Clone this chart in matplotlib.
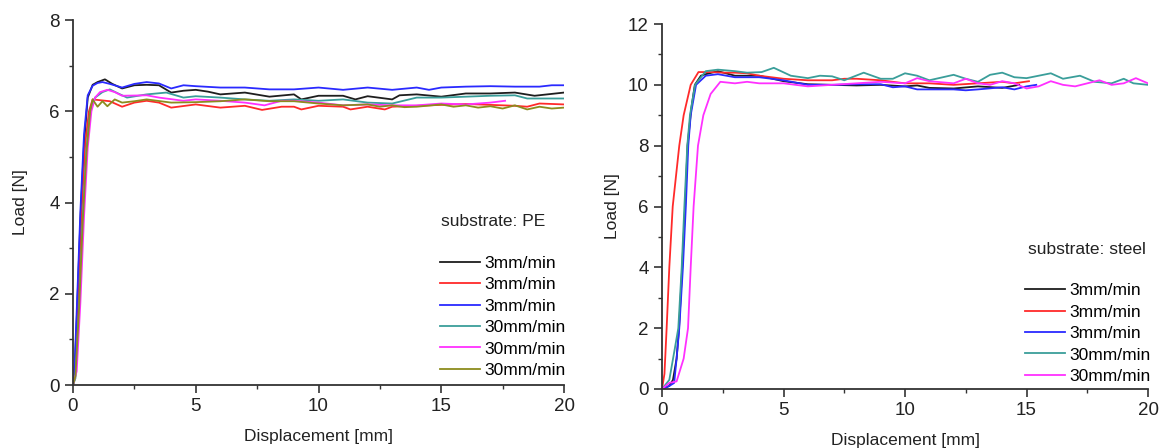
import matplotlib.pyplot as plt
from matplotlib.ticker import MultipleLocator

plt.rcParams['font.family'] = ['Liberation Sans', 'DejaVu Sans']

# colours of the runs (Origin style)
c_black = '#1e1e1e'
c_red = '#ff2a2a'
c_blue = '#2a2aff'
c_teal = '#3a9e9a'
c_magenta = '#ff30ff'
c_olive = '#8c8c1e'

labels_pe = ['3mm/min', '3mm/min', '3mm/min', '30mm/min', '30mm/min', '30mm/min']
labels_steel = ['3mm/min', '3mm/min', '3mm/min', '30mm/min', '30mm/min']

# ---- substrate: PE ----
pe_black_x = [0, 0.05, 0.15, 0.3, 0.45, 0.6, 0.8, 1.0, 1.3, 1.6, 2.0, 2.5, 3.0, 3.5, 4.0, 4.5, 5.0, 5.5, 6.0,
              7.0, 8.0, 9.0, 9.3, 10.0, 11.0, 11.5, 12.0, 13.0, 13.3, 14.0, 15.0, 16.0, 17.0, 18.0, 18.8, 20.0]
pe_black_y = [0, 0.1, 1.4, 3.6, 5.3, 6.3, 6.58, 6.64, 6.70, 6.6, 6.5, 6.57, 6.58, 6.57, 6.41, 6.45, 6.47, 6.43, 6.37,
              6.41, 6.32, 6.37, 6.26, 6.34, 6.34, 6.26, 6.33, 6.26, 6.35, 6.37, 6.32, 6.39, 6.39, 6.41, 6.34, 6.41]

pe_red_x = [0, 0.1, 0.2, 0.35, 0.5, 0.65, 0.8, 1.5, 2.0, 2.5, 3.0, 3.5, 4.0, 5.0, 6.0, 7.0, 7.7, 8.5, 9.0, 9.3,
            10.0, 11.0, 11.3, 12.0, 12.7, 13.0, 14.0, 15.0, 16.0, 17.0, 18.0, 18.5, 19.0, 20.0]
pe_red_y = [0, 0.3, 1.8, 3.8, 5.3, 6.0, 6.26, 6.22, 6.1, 6.19, 6.23, 6.19, 6.08, 6.15, 6.08, 6.12, 6.03, 6.1, 6.1,
            6.04, 6.12, 6.1, 6.04, 6.1, 6.04, 6.1, 6.12, 6.14, 6.16, 6.14, 6.12, 6.1, 6.17, 6.15]

pe_blue_x = [0, 0.05, 0.15, 0.3, 0.45, 0.6, 0.8, 1.0, 1.2, 1.5, 2.0, 2.5, 3.0, 3.5, 4.0, 4.5, 5.0, 6.0, 7.0,
             8.0, 9.0, 10.0, 11.0, 12.0, 13.0, 14.0, 14.5, 15.0, 16.0, 17.0, 18.0, 19.0, 19.5, 20.0]
pe_blue_y = [0, 0.2, 1.6, 3.8, 5.5, 6.35, 6.56, 6.62, 6.64, 6.6, 6.52, 6.6, 6.64, 6.61, 6.5, 6.57, 6.55, 6.52, 6.52,
             6.48, 6.48, 6.52, 6.47, 6.52, 6.47, 6.52, 6.47, 6.52, 6.54, 6.55, 6.54, 6.54, 6.57, 6.57]

pe_teal_x = [0, 0.1, 0.25, 0.4, 0.55, 0.7, 0.9, 1.2, 1.5, 1.8, 2.2, 3.0, 3.8, 4.5, 5.0, 6.0, 7.0, 8.0, 9.0,
             10.0, 11.0, 12.0, 13.0, 14.0, 15.0, 16.0, 17.0, 18.0, 18.5, 20.0]
pe_teal_y = [0, 0.15, 1.7, 3.7, 5.2, 6.0, 6.3, 6.42, 6.48, 6.4, 6.3, 6.37, 6.41, 6.3, 6.33, 6.3, 6.26, 6.23, 6.26,
             6.23, 6.26, 6.19, 6.17, 6.3, 6.3, 6.32, 6.34, 6.35, 6.28, 6.28]

pe_magenta_x = [0, 0.15, 0.3, 0.45, 0.6, 0.75, 0.9, 1.1, 1.4, 1.7, 2.0, 3.0, 3.5, 4.5, 5.0, 6.0, 7.0, 7.8, 8.5,
                9.0, 10.0, 11.0, 12.0, 13.0, 14.0, 15.0, 16.0, 17.0, 17.6]
pe_magenta_y = [0, 0.3, 1.8, 3.7, 5.2, 6.0, 6.3, 6.42, 6.47, 6.42, 6.34, 6.35, 6.3, 6.23, 6.26, 6.23, 6.19, 6.13, 6.23,
                6.23, 6.19, 6.13, 6.15, 6.13, 6.13, 6.17, 6.15, 6.19, 6.23]

pe_olive_x = [0, 0.1, 0.25, 0.4, 0.55, 0.7, 0.8, 1.0, 1.2, 1.4, 1.7, 2.0, 2.5, 3.0, 4.0, 5.0, 6.0, 7.0, 8.0, 9.0,
              10.0, 11.0, 12.0, 12.5, 13.0, 13.5, 14.0, 15.0, 15.5, 16.0, 16.5, 17.0, 17.5, 18.0, 18.5, 19.0, 19.5, 20.0]
pe_olive_y = [0, 0.2, 1.7, 3.6, 5.1, 6.0, 6.26, 6.1, 6.22, 6.11, 6.26, 6.19, 6.22, 6.26, 6.19, 6.2, 6.22, 6.26, 6.22,
              6.22, 6.17, 6.13, 6.15, 6.1, 6.13, 6.09, 6.1, 6.15, 6.1, 6.13, 6.08, 6.11, 6.06, 6.13, 6.04, 6.1, 6.06, 6.08]

# ---- substrate: steel ----
st_black_x = [0, 0.3, 0.45, 0.6, 0.7, 0.83, 0.95, 1.05, 1.2, 1.35, 1.6, 1.8, 2.3, 3.0, 4.0, 5.0, 6.0, 7.0, 8.0,
              9.0, 10.0, 10.5, 11.0, 12.0, 13.0, 14.0, 14.7]
st_black_y = [0, 0.1, 0.3, 1.0, 2.0, 4.0, 6.0, 8.0, 9.2, 10.0, 10.3, 10.35, 10.45, 10.3, 10.3, 10.12, 10.02, 10.0,
              9.98, 10.0, 9.95, 9.98, 9.9, 9.88, 9.95, 9.9, 10.0]

st_red_x = [0, 0.1, 0.19, 0.3, 0.44, 0.71, 0.89, 1.18, 1.5, 2.0, 2.5, 3.0, 3.5, 4.0, 5.0, 6.0, 7.0, 7.5, 8.0,
            9.0, 10.0, 11.0, 12.0, 13.0, 14.0, 14.5, 15.1]
st_red_y = [0, 0.5, 2.0, 4.0, 6.0, 8.0, 9.0, 10.0, 10.42, 10.42, 10.4, 10.4, 10.38, 10.3, 10.2, 10.15, 10.15, 10.2,
            10.2, 10.15, 10.05, 10.05, 10.0, 10.05, 10.1, 10.05, 10.12]

st_blue_x = [0, 0.3, 0.5, 0.6, 0.71, 0.86, 0.98, 1.08, 1.18, 1.4, 1.8, 2.3, 3.0, 4.0, 5.0, 6.0, 7.0, 8.0, 9.0,
             9.5, 10.0, 10.5, 11.0, 12.0, 12.5, 13.0, 14.0, 14.5, 15.0, 15.4]
st_blue_y = [0, 0.1, 0.2, 1.0, 2.0, 4.0, 6.0, 8.0, 9.0, 10.0, 10.3, 10.35, 10.25, 10.25, 10.15, 10.0, 10.0, 10.02,
             10.02, 9.92, 9.95, 9.85, 9.85, 9.85, 9.82, 9.85, 9.92, 9.85, 9.95, 10.0]

st_teal_x = [0, 0.3, 0.52, 0.67, 0.81, 0.92, 1.04, 1.15, 1.36, 1.8, 2.3, 3.0, 3.5, 4.1, 4.6, 5.3, 6.0, 6.5, 7.0,
             7.5, 8.3, 9.0, 9.5, 10.0, 10.5, 11.0, 12.0, 12.5, 13.0, 13.5, 14.0, 14.5, 15.0, 16.0, 16.5, 17.2,
             17.8, 18.5, 19.0, 19.4, 20.0]
st_teal_y = [0, 0.3, 1.3, 2.0, 4.0, 6.0, 8.0, 9.0, 10.0, 10.45, 10.5, 10.45, 10.4, 10.42, 10.56, 10.3, 10.22, 10.3,
             10.28, 10.15, 10.4, 10.2, 10.2, 10.38, 10.3, 10.15, 10.33, 10.2, 10.1, 10.33, 10.4, 10.25, 10.22,
             10.38, 10.2, 10.3, 10.1, 10.05, 10.2, 10.05, 10.0]

st_magenta_x = [0, 0.3, 0.6, 0.89, 1.07, 1.18, 1.3, 1.48, 1.7, 2.0, 2.4, 3.0, 3.5, 4.0, 5.0, 5.5, 6.0, 7.0, 8.0,
                9.0, 10.0, 10.5, 11.0, 12.0, 12.5, 13.0, 13.5, 14.0, 14.5, 15.0, 15.5, 16.0, 16.5, 17.0, 18.0,
                18.5, 19.0, 19.5, 20.0]
st_magenta_y = [0, 0.2, 0.25, 1.0, 2.0, 4.0, 6.0, 8.0, 9.0, 9.7, 10.1, 10.05, 10.1, 10.05, 10.05, 10.0, 9.95, 10.0,
                10.05, 10.1, 10.05, 10.22, 10.12, 10.05, 10.2, 10.05, 10.0, 10.12, 10.05, 9.88, 9.95, 10.12, 10.0,
                9.95, 10.15, 10.0, 10.05, 10.22, 10.05]


def style_axes(ax, ymax, ymajor, ypad):
    ax.set_xlim(0, 20)
    ax.set_ylim(0, ymax)
    ax.spines['top'].set_visible(False)
    ax.spines['right'].set_visible(False)
    for s in ('left', 'bottom'):
        ax.spines[s].set_linewidth(1.3)
        ax.spines[s].set_color('#333333')
    ax.xaxis.set_major_locator(MultipleLocator(5))
    ax.xaxis.set_minor_locator(MultipleLocator(2.5))
    ax.yaxis.set_major_locator(MultipleLocator(ymajor))
    ax.yaxis.set_minor_locator(MultipleLocator(ymajor / 2))
    ax.tick_params(which='major', direction='out', length=6, width=1.2, labelsize=13.5,
                   color='#333333', labelcolor='#222222')
    ax.tick_params(which='minor', direction='out', length=3, width=1.0, color='#333333')
    ax.set_xlabel('Displacement [mm]', fontsize=12.5, color='#222222', labelpad=10)
    ax.set_ylabel('Load [N]', fontsize=12.5, color='#222222', labelpad=ypad)


fig = plt.figure(figsize=(11.68, 4.48), dpi=100)
ax1 = fig.add_axes([0.0625, 0.1406, 0.4204, 0.8147])
ax2 = fig.add_axes([0.5668, 0.1317, 0.4161, 0.8147])

lw = 1.3
pe_series = [(pe_black_x, pe_black_y, c_black), (pe_red_x, pe_red_y, c_red), (pe_blue_x, pe_blue_y, c_blue),
             (pe_teal_x, pe_teal_y, c_teal), (pe_magenta_x, pe_magenta_y, c_magenta),
             (pe_olive_x, pe_olive_y, c_olive)]
for (xs, ys, col), lab in zip(pe_series, labels_pe):
    ax1.plot(xs, ys, color=col, lw=lw, label=lab)

st_series = [(st_black_x, st_black_y, c_black), (st_red_x, st_red_y, c_red), (st_blue_x, st_blue_y, c_blue),
             (st_teal_x, st_teal_y, c_teal), (st_magenta_x, st_magenta_y, c_magenta)]
for (xs, ys, col), lab in zip(st_series, labels_steel):
    ax2.plot(xs, ys, color=col, lw=lw, label=lab)

style_axes(ax1, 8, 2, 15)
style_axes(ax2, 12, 2, 6)

ax1.text(0.749, 0.447, 'substrate: PE', transform=ax1.transAxes, fontsize=12.5, va='center', color='#222222')
ax2.text(0.753, 0.381, 'substrate: steel', transform=ax2.transAxes, fontsize=12.5, va='center', color='#222222')

for ax, y0 in ((ax1, 0.354), (ax2, 0.29)):
    ax.legend(loc='upper left', bbox_to_anchor=(0.747, y0), frameon=False, fontsize=12.5,
              handlelength=2.3, handletextpad=0.25, labelspacing=0.36, borderpad=0, borderaxespad=0)

fig.savefig('out.png', dpi=100)
